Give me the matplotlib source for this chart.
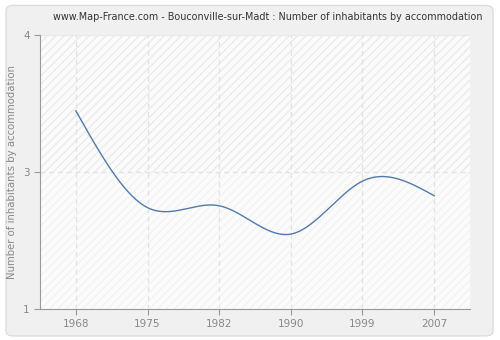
import numpy as np
import matplotlib.pyplot as plt
from matplotlib.patches import FancyBboxPatch

years = ['1968', '1975', '1982', '1990', '1999', '2007']
values = [3.17, 2.11, 2.13, 1.82, 2.40, 2.24]
ytick_pos = [1, 2.5, 4]
ytick_lab = ['1', '3', '4']


def natural_spline(x, y, n=300):
    x = np.asarray(x, float)
    y = np.asarray(y, float)
    k = len(x)
    h = np.diff(x)
    A = np.zeros((k, k))
    b = np.zeros(k)
    A[0, 0] = A[-1, -1] = 1
    for i in range(1, k - 1):
        A[i, i - 1] = h[i - 1]
        A[i, i] = 2 * (h[i - 1] + h[i])
        A[i, i + 1] = h[i]
        b[i] = 6 * ((y[i + 1] - y[i]) / h[i] - (y[i] - y[i - 1]) / h[i - 1])
    m = np.linalg.solve(A, b)
    xs = np.linspace(x[0], x[-1], n)
    ys = np.empty_like(xs)
    for j, t in enumerate(xs):
        i = min(np.searchsorted(x, t, side='right') - 1, k - 2)
        a = (x[i + 1] - t) / h[i]
        c = (t - x[i]) / h[i]
        ys[j] = (a * y[i] + c * y[i + 1]
                 + ((a ** 3 - a) * m[i] + (c ** 3 - c) * m[i + 1]) * h[i] ** 2 / 6)
    return xs, ys


fig = plt.figure(figsize=(5, 3.4), dpi=100)
fig.patch.set_facecolor('#ffffff')
bg = FancyBboxPatch((0.012, 0.012), 0.974, 0.972,
                    boxstyle='round,pad=0,rounding_size=0.015',
                    transform=fig.transFigure, facecolor='#f0f0f0',
                    edgecolor='#dddddd', linewidth=1, zorder=-10)
fig.patches.append(bg)

ax = fig.add_axes([0.08, 0.0912, 0.86, 0.806])
ax.set_zorder(1)
ax.set_facecolor('#fbfbfb')
x = np.arange(len(years))
ax.axhspan(2.5, 4, facecolor='none', edgecolor='#ebebeb', hatch='////', linewidth=0, zorder=0)
ax.axhspan(1, 2.5, facecolor='none', edgecolor='#f3f3f3', hatch='////', linewidth=0, zorder=0)

xs, ys = natural_spline(x, values)
ax.plot(xs, ys, color='#4f7bab', linewidth=1, zorder=3)

ax.set_xlim(-0.5, 5.5)
ax.set_ylim(1, 4)
ax.set_xticks(x)
ax.set_xticklabels(years)
ax.set_yticks(ytick_pos)
ax.set_yticklabels(ytick_lab)
for xi in x:
    ax.axvline(xi, color='#e2e2e2', linestyle=(0, (4, 3)), linewidth=0.9, zorder=1)
ax.axhline(2.5, color='#e2e2e2', linestyle=(0, (4, 3)), linewidth=0.9, zorder=1)
ax.axhline(4, color='#e8e8e8', linewidth=0.9, zorder=1)

for s in ['top', 'right']:
    ax.spines[s].set_visible(False)
for s in ['left', 'bottom']:
    ax.spines[s].set_color('#999999')
ax.tick_params(colors='#999999', labelcolor='#888888', labelsize=7.5, length=4, direction='out')
ax.set_ylabel('Number of inhabitants by accommodation', color='#888888', fontsize=7.3)
fig.text(0.536, 0.95, 'www.Map-France.com - Bouconville-sur-Madt : Number of inhabitants by accommodation',
         fontsize=6.9, color='#333333', ha='center', va='center')

fig.savefig('out.png', dpi=100)
